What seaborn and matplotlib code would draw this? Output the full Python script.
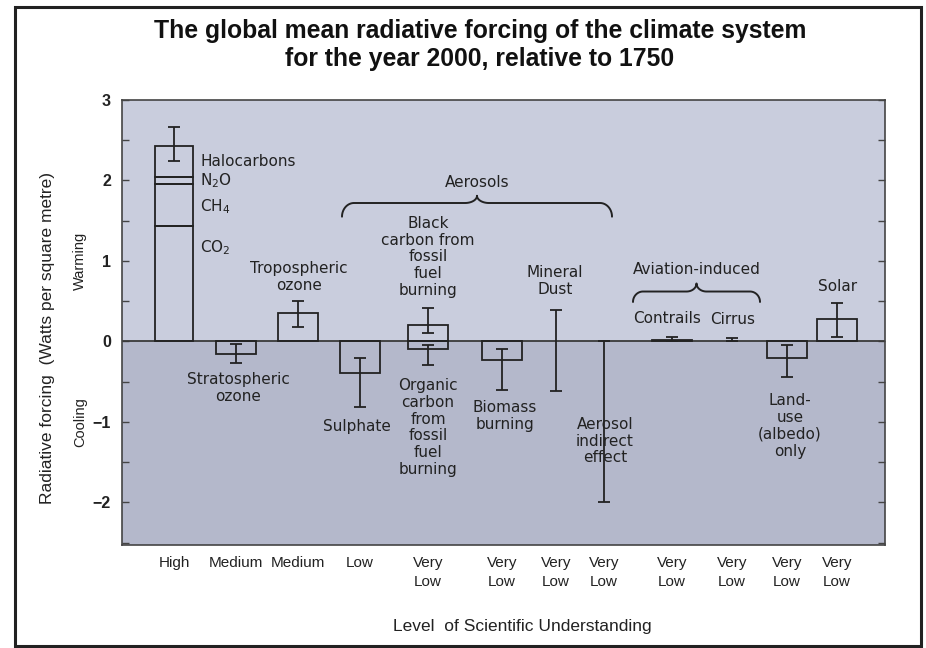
import numpy as np
import pandas as pd
import matplotlib.pyplot as plt
import seaborn as sns
from matplotlib.patches import Rectangle

# ---------------------------------------------------------------------------
# Data
# ---------------------------------------------------------------------------
understanding = ['High', 'Medium', 'Medium', 'Low', 'Very\nLow', 'Very\nLow',
                 'Very\nLow', 'Very\nLow', 'Very\nLow', 'Very\nLow',
                 'Very\nLow', 'Very\nLow']

ghg_parts = ['CO$_2$', 'CH$_4$', 'N$_2$O', 'Halocarbons']
ghg_values = [1.44, 0.52, 0.08, 0.39]
ghg_range = [2.24, 2.66]

forcing_names = ['Stratospheric ozone', 'Tropospheric ozone', 'Sulphate',
                 'Black carbon', 'Organic carbon', 'Biomass burning',
                 'Mineral dust', 'Aerosol indirect effect', 'Contrails',
                 'Cirrus', 'Land-use (albedo)', 'Solar']
forcing_best = [-0.16, 0.35, -0.39, 0.21, -0.10, -0.23,
                np.nan, np.nan, 0.02, np.nan, -0.21, 0.28]
forcing_low = [-0.27, 0.18, -0.81, 0.10, -0.29, -0.61,
               -0.62, -2.00, 0.005, 0.00, -0.44, 0.06]
forcing_high = [-0.03, 0.50, -0.20, 0.41, -0.04, -0.09,
                0.39, 0.00, 0.06, 0.04, -0.05, 0.48]
forcing_slot = [1, 2, 3, 4, 4, 5, 6, 7, 8, 9, 10, 11]

# ---------------------------------------------------------------------------
# Layout
# ---------------------------------------------------------------------------
SLOT_X = [52, 114, 176, 238, 306, 380, 434, 482, 550, 610, 665, 715]
BAR_W = 38
INK = '#222222'
UPPER_BG = '#c9cddd'
LOWER_BG = '#b4b8cb'
ANNOT_FONT = ['DejaVu Sans']


def brace(ax, x0, x1, y, drop, peak, r):
    """Curly brace opening downwards, drawn in data coordinates."""
    t = np.linspace(0, np.pi / 2, 25)
    xm = (x0 + x1) / 2
    lx = x0 + r - r * np.cos(t)
    ly = y - drop + drop * np.sin(t)
    mx = xm - r + r * np.sin(t)
    my = y + peak - peak * np.cos(t)
    xs = np.concatenate([lx, mx])
    ys = np.concatenate([ly, my])
    xs = np.concatenate([xs, (2 * xm - xs)[::-1]])
    ys = np.concatenate([ys, ys[::-1]])
    ax.plot(xs, ys, color=INK, lw=1.4, solid_capstyle='round')


def main():
    sns.set_theme(style='ticks')
    plt.rcParams['font.family'] = ['Liberation Sans', 'DejaVu Sans']
    plt.rcParams['mathtext.fontset'] = 'dejavusans'

    fig = plt.figure(figsize=(9.26, 6.48), dpi=100)
    ax = fig.add_axes([122 / 926, 1 - 545 / 648, 763 / 926, 445 / 648])

    ax.set_xlim(0, 763)
    ax.set_ylim(-2.53, 3.0)
    ax.axhspan(0, 3.0, color=UPPER_BG, zorder=0, lw=0)
    ax.axhspan(-2.53, 0, color=LOWER_BG, zorder=0, lw=0)
    ax.axhline(0, color='#3a3a3a', lw=1.3, zorder=1)

    # --- well-mixed greenhouse gases (stacked) -----------------------------
    bottoms = np.concatenate([[0], np.cumsum(ghg_values)[:-1]])
    ax.bar([SLOT_X[0]] * len(ghg_values), ghg_values, bottom=bottoms,
           width=BAR_W, fill=False, edgecolor=INK, linewidth=1.3, zorder=3)
    ax.errorbar(SLOT_X[0], np.mean(ghg_range),
                yerr=(ghg_range[1] - ghg_range[0]) / 2, fmt='none',
                ecolor=INK, elinewidth=1.3, capsize=4, capthick=1.3, zorder=4)

    # --- other forcings ----------------------------------------------------
    df = pd.DataFrame({
        'name': forcing_names,
        'best': forcing_best,
        'low': forcing_low,
        'high': forcing_high,
        'x': [SLOT_X[s] for s in forcing_slot],
    })
    boxes = df.dropna(subset=['best'])
    sns.barplot(data=boxes, x='x', y='best', hue='name',
                palette=[INK] * len(boxes), native_scale=True, dodge=False,
                fill=False, width=BAR_W / 48, linewidth=1.3, errorbar=None,
                legend=False, ax=ax, zorder=3)
    ax.errorbar(df['x'], (df['low'] + df['high']) / 2,
                yerr=(df['high'] - df['low']) / 2, fmt='none', ecolor=INK,
                elinewidth=1.3, capsize=4, capthick=1.3, zorder=4)

    # --- annotations -------------------------------------------------------
    tk = dict(color=INK, fontsize=11, linespacing=1.15, family=ANNOT_FONT)
    for lab, y in zip(ghg_parts, [1.16, 1.67, 2.00, 2.23]):
        ax.text(78, y, lab, ha='left', va='center', **tk)
    labels = [
        (116, -0.58, 'Stratospheric\nozone'),
        (177, 0.80, 'Tropospheric\nozone'),
        (235, -1.06, 'Sulphate'),
        (306, 1.05, 'Black\ncarbon from\nfossil\nfuel\nburning'),
        (306, -1.07, 'Organic\ncarbon\nfrom\nfossil\nfuel\nburning'),
        (383, -0.93, 'Biomass\nburning'),
        (433, 0.75, 'Mineral\nDust'),
        (483, -1.24, 'Aerosol\nindirect\neffect'),
        (545, 0.29, 'Contrails'),
        (611, 0.27, 'Cirrus'),
        (668, -1.05, 'Land-\nuse\n(albedo)\nonly'),
        (716, 0.68, 'Solar'),
        (355, 1.97, 'Aerosols'),
        (575, 0.89, 'Aviation-induced'),
    ]
    for x, y, s in labels:
        ax.text(x, y, s, ha='center', va='center', **tk)
    brace(ax, 220, 490, 1.72, 0.17, 0.09, 12)
    brace(ax, 511, 638, 0.62, 0.13, 0.10, 10)

    # --- axes --------------------------------------------------------------
    ax.set_xticks(SLOT_X, understanding)
    ax.tick_params(axis='x', length=0, pad=8, labelsize=11, labelcolor=INK)
    for t in ax.get_xticklabels():
        t.set_linespacing(1.45)
    ax.set_yticks([-2, -1, 0, 1, 2, 3], ['\u22122', '\u22121', '0', '1', '2', '3'])
    ax.set_yticks(np.arange(-2.5, 3.0, 0.5), minor=True)
    ax.tick_params(axis='y', which='both', direction='in', length=5,
                   width=1.0, left=True, right=True, color='#444',
                   labelsize=11.5, pad=8, labelcolor=INK)
    for t in ax.get_yticklabels():
        t.set_fontweight('bold')
    for sp in ax.spines.values():
        sp.set_visible(True)
        sp.set_color('#444')
        sp.set_linewidth(1.2)
    ax.set_xlabel('')
    ax.set_ylabel('')

    ax.text(-0.098, 0.04, 'Radiative forcing  (Watts per square metre)',
            transform=ax.get_yaxis_transform(), rotation=90, ha='center',
            va='center', fontsize=12.5, color=INK)
    ax.text(-0.055, 1.0, 'Warming', transform=ax.get_yaxis_transform(),
            rotation=90, ha='center', va='center', fontsize=10.5, color=INK)
    ax.text(-0.055, -1.0, 'Cooling', transform=ax.get_yaxis_transform(),
            rotation=90, ha='center', va='center', fontsize=10.5, color=INK)

    fig.text(522 / 926, 1 - 627 / 648, 'Level  of Scientific Understanding',
             ha='center', va='center', fontsize=12.5, color=INK)
    fig.text(480 / 926, 1 - 45 / 648,
             'The global mean radiative forcing of the climate system\n'
             'for the year 2000, relative to 1750',
             ha='center', va='center', fontsize=17.8, fontweight='bold',
             linespacing=1.22, color='#111')

    fig.add_artist(Rectangle((15 / 926, 2 / 648), 906 / 926, 639 / 648,
                             transform=fig.transFigure, fill=False,
                             edgecolor='#222', linewidth=2.2))

    fig.savefig('out.png', dpi=100)
    plt.close(fig)


if __name__ == '__main__':
    main()
